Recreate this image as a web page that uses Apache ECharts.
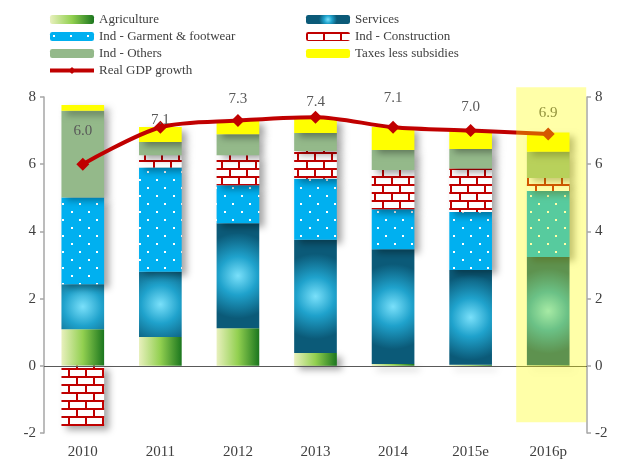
<!DOCTYPE html>
<html>
<head>
<meta charset="utf-8">
<script src="https://cdn.jsdelivr.net/npm/echarts@6/dist/echarts.min.js"></script>
<style>
  html, body { margin: 0; padding: 0; background: #fff; }
  #main { width: 621px; height: 462px; }
</style>
</head>
<body>
<div id="main"></div>
<script>
// data (percentage points of GDP growth)
var years = ['2010', '2011', '2012', '2013', '2014', '2015e', '2016p'];
var agriculture = [1.09, 0.86, 1.12, 0.38, 0.05, 0.03, 0.02];
var services = [1.34, 1.94, 3.12, 3.37, 3.42, 2.82, 3.22];
var garment = [2.58, 3.10, 1.13, 1.82, 1.19, 1.73, 1.96];
var construction = [-1.79, 0.37, 0.90, 0.82, 1.17, 1.29, 0.39];
var others = [2.58, 0.39, 0.62, 0.54, 0.59, 0.58, 0.78];
var taxes = [0.17, 0.45, 0.42, 0.43, 0.69, 0.57, 0.57];
var gdpGrowth = [6.0, 7.1, 7.3, 7.4, 7.1, 7.0, 6.9];
var yTicks = [-2, 0, 2, 4, 6, 8];

// label nudges for the growth figures (px)
var labelNudge = [-14, 12, -2, 4, -10, -5, -2];

var serif = '"Liberation Serif", "DejaVu Serif", serif';
var textGrey = '#404040';

// patterns
function dotPattern() {
  var c = document.createElement('canvas');
  c.width = 17; c.height = 16;
  var ctx = c.getContext('2d');
  ctx.fillStyle = '#00b0f0';
  ctx.fillRect(0, 0, 17, 16);
  ctx.fillStyle = '#ffffff';
  ctx.fillRect(3, 3, 2, 2);
  ctx.fillRect(11, 11, 2, 2);
  return c;
}
function brickPattern() {
  var c = document.createElement('canvas');
  c.width = 17; c.height = 16;
  var ctx = c.getContext('2d');
  ctx.fillStyle = '#ffffff';
  ctx.fillRect(0, 0, 17, 16);
  ctx.fillStyle = '#c00000';
  ctx.fillRect(0, 0, 17, 2);
  ctx.fillRect(0, 8, 17, 2);
  ctx.fillRect(0, 0, 2, 8);
  ctx.fillRect(8, 8, 2, 8);
  return c;
}

var shadow = {
  shadowBlur: 7,
  shadowColor: 'rgba(0,0,0,0.35)',
  shadowOffsetX: 5,
  shadowOffsetY: 4
};
function barStyle(color) {
  return Object.assign({ color: color }, shadow);
}

var myChart = echarts.init(document.getElementById('main'));

var legendText = { color: textGrey, fontFamily: serif, fontSize: 13 };
var legendBase = {
  orient: 'vertical',
  top: 13,
  padding: 0,
  itemWidth: 44,
  itemHeight: 9,
  itemGap: 4,
  textStyle: legendText,
  itemStyle: { shadowBlur: 0, shadowOffsetX: 0, shadowOffsetY: 0 }
};

option = {
  animation: false,
  backgroundColor: '#ffffff',
  legend: [
    Object.assign({}, legendBase, {
      left: 48,
      data: ['Agriculture', 'Ind - Garment & footwear', 'Ind - Others',
        { name: 'Real GDP growth', lineStyle: { width: 4 } }]
    }),
    Object.assign({}, legendBase, {
      left: 306,
      data: ['Services', 'Ind - Construction', 'Taxes less subsidies']
    })
  ],
  grid: { left: 44, right: 34, top: 97, bottom: 29 },
  xAxis: {
    type: 'category',
    data: years,
    axisLine: { show: false, onZero: false },
    axisTick: { show: false },
    axisLabel: { color: textGrey, fontFamily: serif, fontSize: 15, margin: 12 }
  },
  yAxis: [0, 1].map(function (i) {
    return {
      type: 'value',
      position: i === 0 ? 'left' : 'right',
      min: yTicks[0],
      max: yTicks[yTicks.length - 1],
      interval: 2,
      splitLine: { show: false },
      axisLine: { show: true, lineStyle: { color: '#a6a6a6', width: 1.5 } },
      axisTick: { show: true, length: 4, lineStyle: { color: '#a6a6a6', width: 1.5 } },
      axisLabel: { color: textGrey, fontFamily: serif, fontSize: 15, margin: 8 }
    };
  }),
  series: [
    {
      name: 'Agriculture', type: 'bar', stack: 'gdp', barWidth: '55%',
      itemStyle: barStyle({
        type: 'linear', x: 0, y: 0, x2: 1, y2: 0,
        colorStops: [
          { offset: 0, color: '#e8f0bd' },
          { offset: 0.5, color: '#92d050' },
          { offset: 1, color: '#1b761e' }
        ]
      }),
      data: agriculture,
      markLine: {
        silent: true, symbol: 'none', label: { show: false },
        lineStyle: { color: '#595959', type: 'solid', width: 1.2 },
        data: [{ yAxis: 0 }]
      }
    },
    {
      name: 'Services', type: 'bar', stack: 'gdp',
      itemStyle: barStyle({
        type: 'radial', x: 0.5, y: 0.5, r: 1.0,
        colorStops: [
          { offset: 0, color: '#7ae0fa' },
          { offset: 0.45, color: '#1fa2cc' },
          { offset: 1, color: '#0b5a78' }
        ]
      }),
      data: services
    },
    {
      name: 'Ind - Garment & footwear', type: 'bar', stack: 'gdp',
      itemStyle: barStyle({ image: dotPattern(), repeat: 'repeat' }),
      data: garment
    },
    {
      name: 'Ind - Construction', type: 'bar', stack: 'gdp',
      itemStyle: barStyle({ image: brickPattern(), repeat: 'repeat' }),
      data: construction
    },
    {
      name: 'Ind - Others', type: 'bar', stack: 'gdp',
      itemStyle: barStyle('#94b98a'),
      data: others
    },
    {
      name: 'Taxes less subsidies', type: 'bar', stack: 'gdp',
      itemStyle: barStyle('#ffff00'),
      data: taxes
    },
    {
      name: 'Real GDP growth', type: 'line', yAxisIndex: 0, z: 5,
      smooth: 0.3,
      symbol: 'diamond', symbolSize: 13,
      lineStyle: { color: '#c00000', width: 4 },
      itemStyle: { color: '#c00000' },
      label: {
        show: true, position: 'top', color: '#595959',
        fontFamily: serif, fontSize: 15,
        formatter: function (p) { return p.value.toFixed(1); }
      },
      data: gdpGrowth.map(function (v, i) {
        return { value: v, label: { offset: [0, labelNudge[i]] } };
      })
    }
  ]
};

myChart.setOption(option);

// translucent yellow highlight over the forecast year
var topLeft = myChart.convertToPixel({ xAxisIndex: 0, yAxisIndex: 0 }, ['2016p', 8.29]);
var bottom = myChart.convertToPixel({ xAxisIndex: 0, yAxisIndex: 0 }, ['2016p', -1.68]);
myChart.setOption({
  graphic: [{
    type: 'rect', z: 100, silent: true,
    shape: { x: topLeft[0] - 32, y: topLeft[1], width: 70, height: bottom[1] - topLeft[1] },
    style: { fill: 'rgba(255,255,0,0.34)' }
  }]
});
</script>
</body>
</html>
